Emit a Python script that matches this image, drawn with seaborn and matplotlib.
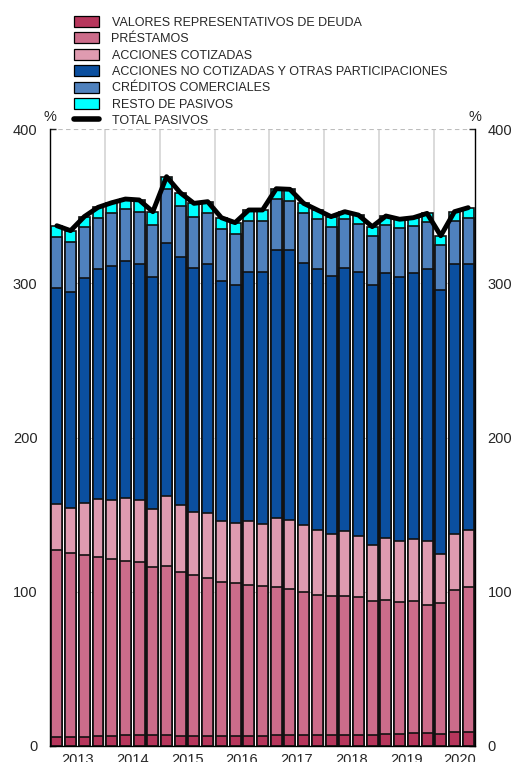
import numpy as np
import pandas as pd
import matplotlib.pyplot as plt
import seaborn as sns

from matplotlib.patches import Patch
from matplotlib.lines import Line2D

years = ['2013', '2014', '2015', '2016', '2017', '2018', '2019', '2020']
quarters = [y + 'T' + str(q) for y in years[:-1] for q in range(1, 5)] + \
    ['2020T1', '2020T2', '2020T3']

# % del PIB
valores_deuda = [6.0, 6.0, 6.0, 6.5, 6.5, 7.1, 7.1, 7.1, 7.1, 6.7, 6.7, 6.7,
                 6.2, 6.2, 6.2, 6.7, 7.1, 6.9, 6.9, 6.9, 7.3, 6.9, 7.3, 6.9,
                 7.8, 7.8, 8.2, 8.2, 7.8, 8.9, 9.3]
prestamos = [121.1, 119.3, 117.8, 116.0, 114.5, 113.0, 112.0, 108.7, 109.6,
             105.9, 104.2, 102.2, 100.1, 99.5, 98.4, 96.8, 96.3, 95.1, 93.1,
             91.2, 90.1, 90.1, 89.1, 86.9, 86.9, 85.6, 85.6, 83.4, 84.9,
             92.4, 94.0]
acciones_cotizadas = [29.6, 29.2, 33.5, 37.8, 38.3, 40.5, 40.2, 38.1, 45.6,
                      43.4, 41.0, 41.9, 39.6, 38.9, 41.3, 40.6, 44.6, 44.5,
                      43.3, 42.1, 40.0, 42.4, 39.7, 36.5, 40.1, 39.7, 40.2,
                      41.5, 31.6, 36.3, 36.9]
acciones_no_cotizadas = [140.4, 139.6, 145.9, 149.1, 151.9, 154.0, 153.0,
                         150.4, 164.0, 161.2, 158.2, 161.7, 155.8, 154.3,
                         161.6, 163.0, 173.8, 175.1, 170.0, 169.0, 167.5,
                         170.7, 171.0, 168.6, 171.6, 171.2, 172.8, 175.9,
                         171.3, 174.7, 172.5]
creditos_comerciales = [32.7, 32.8, 33.1, 33.1, 34.1, 33.5, 33.7, 33.3, 34.6,
                        33.1, 33.1, 32.8, 33.7, 33.0, 32.9, 33.3, 32.6, 31.9,
                        32.0, 32.2, 31.8, 31.6, 31.3, 31.9, 31.4, 31.3, 30.5,
                        30.9, 29.2, 28.1, 29.4]
resto_pasivos = [7.5, 7.2, 6.9, 6.7, 6.9, 6.5, 8.0, 8.8, 8.2, 8.4, 8.6, 7.6,
                 7.1, 7.4, 7.1, 7.1, 6.9, 7.4, 6.5, 6.1, 6.5, 4.7, 5.8, 5.9,
                 5.8, 5.9, 5.2, 5.4, 6.0, 6.0, 6.9]

series_names = ['VALORES REPRESENTATIVOS DE DEUDA', 'PRÉSTAMOS',
                'ACCIONES COTIZADAS',
                'ACCIONES NO COTIZADAS Y OTRAS PARTICIPACIONES',
                'CRÉDITOS COMERCIALES', 'RESTO DE PASIVOS']
series_colors = ['#B7365C', '#CC6C8A', '#DF9BB0', '#0B4F9F', '#4F81BD',
                 '#00FFFF']


def build_frame():
    df = pd.DataFrame({
        series_names[0]: valores_deuda,
        series_names[1]: prestamos,
        series_names[2]: acciones_cotizadas,
        series_names[3]: acciones_no_cotizadas,
        series_names[4]: creditos_comerciales,
        series_names[5]: resto_pasivos,
    }, index=quarters)
    return df


def plot_stacked(df, title):
    fig = plt.figure(figsize=(5.13, 7.62), dpi=100)
    ax = fig.add_axes([0.0975, 0.021, 0.8285, 0.8097])
    ax.set_axisbelow(True)

    cum = df.cumsum(axis=1)
    # draw cumulative bars from the top layer down so each one covers the rest
    for name, color in reversed(list(zip(series_names, series_colors))):
        sns.barplot(x=quarters, y=cum[name].values, color=color,
                    saturation=1, edgecolor='#111111', linewidth=1.2,
                    width=0.8, errorbar=None, ax=ax, zorder=2)

    total = cum[series_names[-1]].values
    sns.lineplot(x=np.arange(len(quarters)), y=total, color='black',
                 linewidth=3.5, ax=ax, zorder=3)

    # year separators and dashed horizontal grid
    for xv in np.arange(3.5, 28, 4):
        ax.axvline(xv, color='#D4D4D4', linewidth=1.2, zorder=0)
    for yv in [100, 200, 300, 400]:
        ax.axhline(yv, color='#BDBDBD', linewidth=0.8, linestyle=(0, (4, 3)),
                   zorder=0)

    ax.set_xlim(-0.5, len(quarters) - 0.5)
    ax.set_ylim(0, 400)
    ax.set_yticks([0, 100, 200, 300, 400])
    ax.set_xticks([1.5, 5.5, 9.5, 13.5, 17.5, 21.5, 25.5, 29.4])
    ax.set_xticklabels(years)
    ax.set_xlabel('')
    ax.set_ylabel('')

    ax.tick_params(axis='y', direction='in', length=4, left=True, right=True,
                   labelleft=True, labelright=True, labelsize=10.5, pad=9,
                   width=1)
    ax.tick_params(axis='x', length=0, labelsize=10.5, pad=5)
    ax.spines['top'].set_visible(False)
    for side in ['left', 'right', 'bottom']:
        ax.spines[side].set_linewidth(1.0)
        ax.spines[side].set_color('black')

    ax.text(0, 1.008, '%', transform=ax.transAxes, ha='center', va='bottom',
            fontsize=10.5)
    ax.text(1, 1.008, '%', transform=ax.transAxes, ha='center', va='bottom',
            fontsize=10.5)

    handles = [Patch(facecolor=c, edgecolor='black', linewidth=0.9)
               for c in series_colors]
    handles.append(Line2D([0], [0], color='black', linewidth=4))
    labels = series_names + ['TOTAL PASIVOS']
    fig.legend(handles, labels, loc='upper left',
               bbox_to_anchor=(74 / 513, 1 - 16 / 762), frameon=False,
               fontsize=9, handlelength=2.0, handleheight=0.95,
               handletextpad=1.0, labelspacing=0.3, borderpad=0,
               borderaxespad=0)

    plt.savefig(title, dpi=100)


def main():
    sns.set_style('white')
    plt.rcParams['font.family'] = ['Liberation Sans', 'DejaVu Sans']

    df = build_frame()
    plot_stacked(df, 'out.png')


if __name__ == '__main__':
    main()
